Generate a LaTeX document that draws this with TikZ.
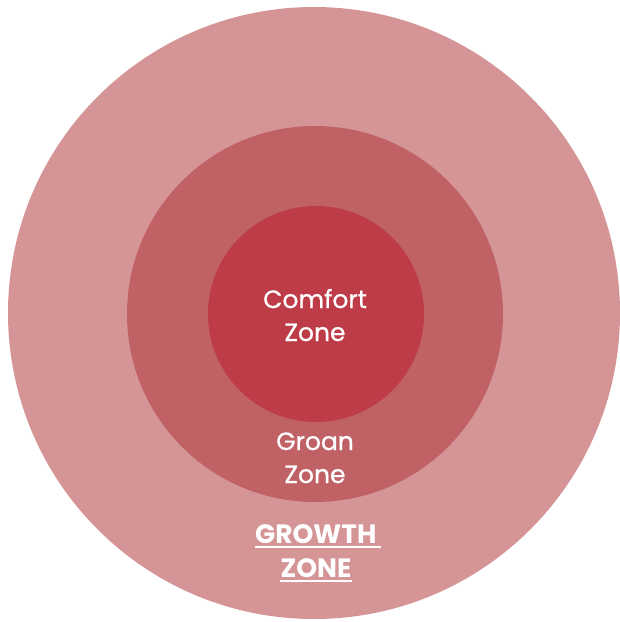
\documentclass[tikz,border=0pt]{standalone}
\usepackage{fontspec}
\setmainfont{Poppins}
\newfontfamily\medfont{Poppins}[FakeBold=0.8]
\definecolor{outerc}{HTML}{D59597}
\definecolor{midc}{HTML}{C06166}
\definecolor{innerc}{HTML}{BD3C48}
\begin{document}
\begin{tikzpicture}[x=1pt,y=-1pt,
  zonetext/.style={text=white,font=\medfont\fontsize{25}{33}\selectfont,inner sep=0pt,anchor=base},
  growtext/.style={text=white,font=\fontsize{26.5}{34}\selectfont\bfseries,inner sep=0pt,anchor=base},
  uline/.style={white,line width=1.3pt}]
\useasboundingbox (0,0) rectangle (620,622);
\fill[outerc] (314,313) circle[radius=306];
\fill[midc] (315,314) circle[radius=188];
\fill[innerc] (316,314) circle[radius=108];
\node[zonetext] (c1) at (315,308) {Comfort};
\node[zonetext] (c2) at (315,341) {Zone};
\node[zonetext] (g1) at (315,450) {Groan};
\node[zonetext] (g2) at (315,483) {Zone};
\node[growtext] (w1) at (318,543) {GROWTH\,};
\node[growtext] (w2) at (316,577) {ZONE};
\draw[uline] ([yshift=-4pt]w1.base west) -- ([yshift=-4pt]w1.base east);
\draw[uline] ([yshift=-4pt]w2.base west) -- ([yshift=-4pt]w2.base east);
\end{tikzpicture}
\end{document}
